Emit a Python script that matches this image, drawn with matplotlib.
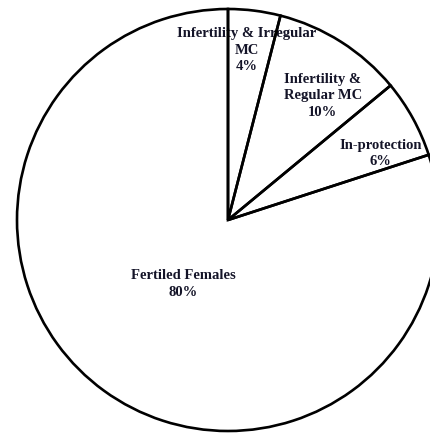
import numpy as np
import matplotlib
matplotlib.use('Agg')
import matplotlib.pyplot as plt

# Data
labels = ['Infertility & Irregular\nMC', 'Infertility &\nRegular MC', 'In-protection', 'Fertiled Females']
shares = [4, 10, 6, 80]

# label placement (fraction of radius, angle tweak in degrees)
label_dist = [0.81, 0.74, 0.79, 0.37]
label_shift = [0.8, -5.0, -5.3, 0.9]

W, H = 430, 433
fig = plt.figure(figsize=(W / 100, H / 100), dpi=100)
ax = fig.add_axes([0, 0, 1, 1])

cx, cy, R = 228, H - 220, 211
wedges, _ = ax.pie(shares, startangle=90, counterclock=False, center=(cx, cy), radius=R,
                   wedgeprops=dict(edgecolor='black', linewidth=1.9, fill=False, zorder=2),
                   frame=True)
ax.set_xlim(0, W)
ax.set_ylim(0, H)
ax.set_aspect('equal')
ax.axis('off')

# labels sit under the wedge outlines, as in the original
for w, lab, val, d, s in zip(wedges, labels, shares, label_dist, label_shift):
    ang = np.deg2rad((w.theta1 + w.theta2) / 2 + s)
    x = cx + d * R * np.cos(ang)
    y = cy + d * R * np.sin(ang)
    ax.text(x, y, f'{lab}\n{val}%', ha='center', va='center', fontsize=10.5,
            fontweight='bold', family='Liberation Serif', color='#141428',
            linespacing=1.35, zorder=1)

fig.savefig('out.png', dpi=100, facecolor='white')
